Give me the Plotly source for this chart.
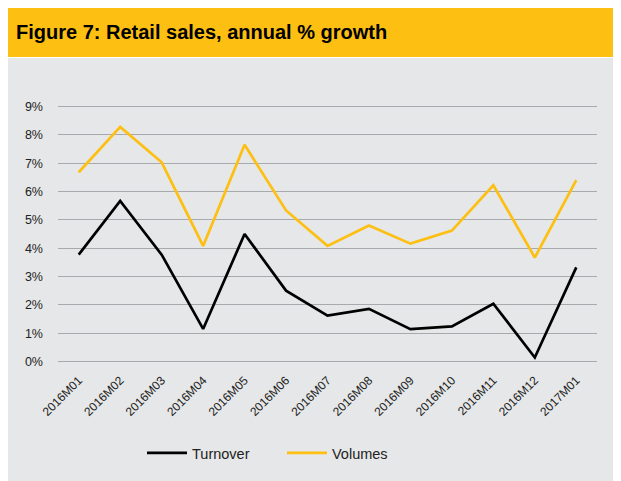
import plotly.graph_objects as go

months = ["2016M01", "2016M02", "2016M03", "2016M04", "2016M05", "2016M06", "2016M07",
          "2016M08", "2016M09", "2016M10", "2016M11", "2016M12", "2017M01"]
turnover = [3.77, 5.67, 3.77, 1.15, 4.5, 2.5, 1.62, 1.86, 1.14, 1.24, 2.04, 0.14, 3.32]
volumes = [6.68, 8.28, 7.03, 4.08, 7.65, 5.33, 4.08, 4.8, 4.16, 4.62, 6.22, 3.67, 6.4]
yticks = [0, 1, 2, 3, 4, 5, 6, 7, 8, 9]
ytext = [f"{v}%" for v in yticks]

YELLOW = "#FDBF11"
W, H = 613, 473
L, R, T, B = 50, 24, 90, 111
PW, PH = W - L - R, H - T - B


def px(x):
    return (x - L) / PW


def py(y):
    return (H - B - y) / PH


fig = go.Figure()
fig.add_trace(go.Scatter(x=months, y=turnover, mode="lines", name="Turnover",
                         line=dict(color="#000000", width=2.7)))
fig.add_trace(go.Scatter(x=months, y=volumes, mode="lines", name="Volumes",
                         line=dict(color=YELLOW, width=2.7)))

fig.update_layout(
    width=W, height=H,
    margin=dict(l=L, r=R, t=T, b=B),
    paper_bgcolor="white", plot_bgcolor="rgba(0,0,0,0)",
    font=dict(family="Liberation Sans, Arial, sans-serif", color="#333333", size=11),
    showlegend=True,
    legend=dict(orientation="h", x=px(134), xanchor="left", y=py(445), yanchor="middle",
                font=dict(size=14.5, color="#222222"), bgcolor="rgba(0,0,0,0)",
                entrywidth=85, entrywidthmode="pixels", itemwidth=40),
    shapes=[
        dict(type="rect", xref="paper", yref="paper", x0=px(0), x1=px(W),
             y0=py(H), y1=py(50),
             fillcolor="#E6E7E8", line=dict(width=0), layer="below"),
        dict(type="rect", xref="paper", yref="paper", x0=px(0), x1=px(W),
             y0=py(49), y1=py(0),
             fillcolor=YELLOW, line=dict(width=0), layer="below"),
    ],
    annotations=[
        dict(text="<b>Figure 7: Retail sales, annual % growth</b>", xref="paper", yref="paper",
             x=px(6), y=py(24), xanchor="left", yanchor="middle",
             showarrow=False, font=dict(size=20, color="#000000",
                                        family="Liberation Sans, Arial, sans-serif")),
    ],
)
fig.update_xaxes(type="category", range=[-0.5, 12.5], showgrid=False, showline=False,
                 zeroline=False, tickangle=-45, tickfont=dict(size=12, color="#222222"),
                 ticks="", fixedrange=True)
fig.update_yaxes(range=[-0.3, 9.3], tickvals=yticks, ticktext=ytext, showgrid=True,
                 gridcolor="#A7A9AC", gridwidth=1.2, zeroline=False, showline=False,
                 tickfont=dict(size=12.5, color="#222222"), ticks="", ticklabelstandoff=14)

fig.write_html("out.html")
